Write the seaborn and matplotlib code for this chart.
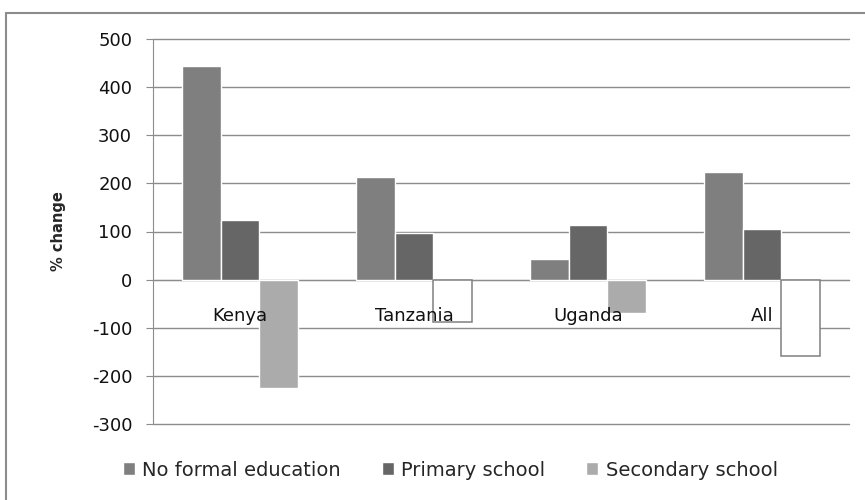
import pandas as pd
import seaborn as sns
import matplotlib
import matplotlib.pyplot as plt
from matplotlib.lines import Line2D

matplotlib.use('Agg')

# data
regions = ['Kenya', 'Tanzania', 'Uganda', 'All']
levels = ['No formal education', 'Primary school', 'Secondary school']
noFormal = [443, 213, 43, 224]
primary = [123, 96, 114, 105]
secondary = [-226, -89, -69, -159]
yTicks = [-300, -200, -100, 0, 100, 200, 300, 400, 500]

frame = pd.DataFrame({
    'region': regions * 3,
    'level': [levels[0]] * 4 + [levels[1]] * 4 + [levels[2]] * 4,
    'change': noFormal + primary + secondary,
})

sns.set_style('white')
plt.rcParams['font.family'] = ['DejaVu Sans']
plt.rcParams['axes.unicode_minus'] = False

gridCol = '#8c8c8c'
palette = {levels[0]: '#7f7f7f', levels[1]: '#666666', levels[2]: '#ababab'}

fig = plt.figure(figsize=(8.65, 5), dpi=100)
ax = fig.add_axes([0.1769, 0.152, 0.8046, 0.770])

sns.barplot(x='region', y='change', hue='level', data=frame, palette=palette,
            width=0.667, gap=0, saturation=1, ax=ax, legend=True)

# Tanzania and All secondary bars come out as empty outlines in the original
for i in [1, 3]:
    bar = ax.containers[2].patches[i]
    bar.set_facecolor('white')
    bar.set_edgecolor('#808080')
    bar.set_linewidth(1.1)

ax.set_xlim(-0.5, 3.5)
ax.set_ylim(-300, 500)
ax.set_yticks(yTicks)
ax.yaxis.grid(True, color=gridCol, linewidth=1)
for gl in ax.yaxis.get_gridlines():
    gl.set_clip_on(False)
# grid behind the bars, category names on top of them
ax.yaxis.set_zorder(0.5)
ax.xaxis.set_zorder(2.5)

for side in ['top', 'right']:
    ax.spines[side].set_visible(False)
ax.spines['left'].set_color(gridCol)
ax.spines['bottom'].set_color(gridCol)
ax.spines['bottom'].set_position(('data', 0))
ax.spines['bottom'].set_zorder(0.6)

ax.set_xticks([0.5, 1.5, 2.5, 3.5], minor=True)
ax.tick_params(axis='x', which='major', length=0, pad=20, labelsize=13, labelcolor='#111111')
ax.tick_params(axis='x', which='minor', direction='out', length=5, color=gridCol)
ax.tick_params(axis='y', direction='out', length=5, color=gridCol, pad=10, labelsize=13,
               labelcolor='#111111', left=True)
ax.set_xlabel('')
ax.set_ylabel('% change', fontsize=10.5, fontweight='bold')
ax.yaxis.set_label_coords(-0.125, 0.5)

handles, labels = ax.get_legend_handles_labels()
handles[2].set_facecolor(palette[levels[2]])
ax.legend(handles, labels, loc='center left', bbox_to_anchor=(0.1422, 0.06),
          bbox_transform=fig.transFigure, ncol=3, frameon=False, fontsize=14,
          borderpad=0, borderaxespad=0,
          handlelength=0.6, handleheight=0.6, handletextpad=0.4, columnspacing=2.1)

# outer chart frame, only top and left edges show in the crop
fig.add_artist(Line2D([0.007, 1.0], [0.974, 0.974], transform=fig.transFigure, color=gridCol, lw=1.5))
fig.add_artist(Line2D([0.007, 0.007], [0.0, 0.974], transform=fig.transFigure, color=gridCol, lw=1.5))

plt.savefig('out.png', dpi=100)
